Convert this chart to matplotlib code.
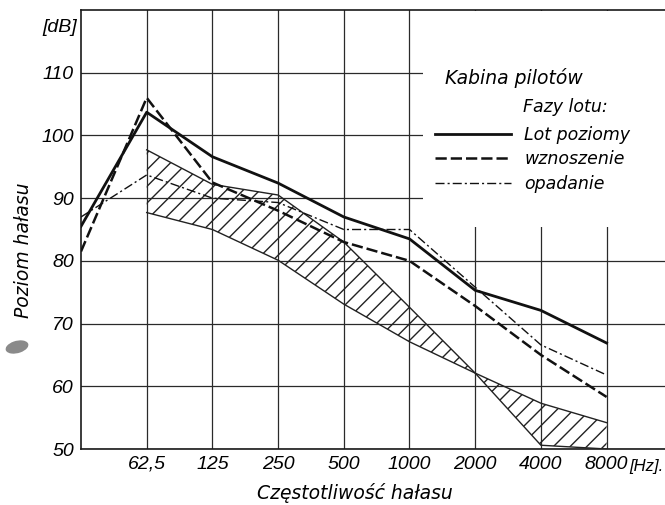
import numpy as np
import matplotlib
matplotlib.use('Agg')
import matplotlib.pyplot as plt
from matplotlib.patches import Rectangle, Ellipse

# frequency bands (index 0 = left edge of the chart)
freq_labels = ['62,5', '125', '250', '500', '1000', '2000', '4000', '8000']
# noise levels [dB] in the pilots' cabin, points 0..8
lot_poziomy = [85.5, 103.7, 96.6, 92.4, 87.0, 83.5, 75.3, 72.1, 66.9]
wznoszenie = [81.5, 106.0, 92.5, 88.0, 83.0, 80.0, 72.8, 65.0, 58.3]
opadanie = [87.0, 93.7, 90.0, 89.3, 85.0, 85.0, 75.8, 66.6, 61.8]
# hatched band, points 1..8
band_upper = [97.7, 92.2, 90.5, 83.0, 72.6, 62.1, 57.3, 54.2]
band_lower = [87.7, 85.0, 80.1, 73.1, 67.1, 62.1, 50.6, 50.0]

W, H = 665, 505
fig = plt.figure(figsize=(W / 100, H / 100), dpi=100)
ax = fig.add_axes([81 / W, 56 / H, (W - 81) / W, 439 / H])

num_font = dict(family=['Liberation Sans Narrow', 'Liberation Sans'], style='italic', size=14)
txt_font = dict(family='DejaVu Sans', style='oblique', size=12.5)

x = np.arange(len(lot_poziomy))
xb = np.arange(1, len(band_upper) + 1)

ax.fill_between(xb, band_lower, band_upper, facecolor='none', edgecolor='#222222',
                hatch='//', linewidth=0, zorder=2)
ax.plot(xb, band_upper, color='#222222', lw=1.0, zorder=3)
ax.plot(xb, band_lower, color='#222222', lw=1.0, zorder=3)

l1, = ax.plot(x, lot_poziomy, color='#111111', lw=2.0, zorder=4)
l2, = ax.plot(x, wznoszenie, color='#111111', lw=1.8, linestyle=(0, (4.5, 1.6)), zorder=4)
l3, = ax.plot(x, opadanie, color='#111111', lw=1.0, linestyle=(0, (6.5, 2.2, 1.5, 2.2)), zorder=4)

ax.set_xlim(0, (W - 81) / 65.7)
ax.set_ylim(50, 120)
ax.set_xticks(xb)
ax.set_xticklabels(freq_labels, fontdict=num_font)
ax.set_yticks([50, 60, 70, 80, 90, 100, 110])
ax.set_yticklabels(['50', '60', '70', '80', '90', '100', '110'], fontdict=num_font)
ax.tick_params(length=0, pad=5)
ax.set_axisbelow(True)
ax.grid(True, color='#2a2a2a', lw=0.9)
for s in ['left', 'top', 'bottom']:
    ax.spines[s].set_linewidth(1.2)
    ax.spines[s].set_color('#1a1a1a')
ax.spines['right'].set_visible(False)

# blank area behind the legend
ax.add_patch(Rectangle((5.2, 85.4), 4, 34.4, facecolor='white', edgecolor='none', zorder=1))

fig.text(445 / W, 1 - 78 / H, 'Kabina pilotów', va='center', ha='left',
         family='DejaVu Sans', style='oblique', size=13.5)
fig.text(523 / W, 1 - 107 / H, 'Fazy lotu:', va='center', ha='left', **txt_font)
leg = ax.legend([l1, l2, l3], ['Lot poziomy', 'wznoszenie', 'opadanie'],
                loc='upper left', bbox_to_anchor=(426 / W, 1 - 117 / H),
                bbox_transform=fig.transFigure, frameon=False, borderpad=0,
                handlelength=4.4, handletextpad=0.75, labelspacing=0.38,
                prop={'family': 'DejaVu Sans', 'style': 'oblique', 'size': 12.5})

fig.text(60 / W, 1 - 28 / H, '[dB]', ha='center', va='center', **num_font)
fig.text(629 / W, 1 - 466 / H, '[Hz].', ha='left', va='center',
         family=['Liberation Sans Narrow', 'Liberation Sans'], style='italic', size=12)
fig.text(355 / W, 1 - 493 / H, 'Częstotliwość hałasu', ha='center', va='center',
         family='DejaVu Sans', style='oblique', size=13.5)
fig.text(24 / W, 1 - 250 / H, 'Poziom hałasu', ha='center', va='center', rotation=90,
         family='DejaVu Sans', style='oblique', size=13.5)

# ink blot from the scan
fig.add_artist(Ellipse((17 / W, 1 - 347 / H), 24 / W, 12 / H, angle=25,
                       transform=fig.transFigure, facecolor='#8a8a8a', edgecolor='none'))

fig.savefig('out.png', dpi=100)
